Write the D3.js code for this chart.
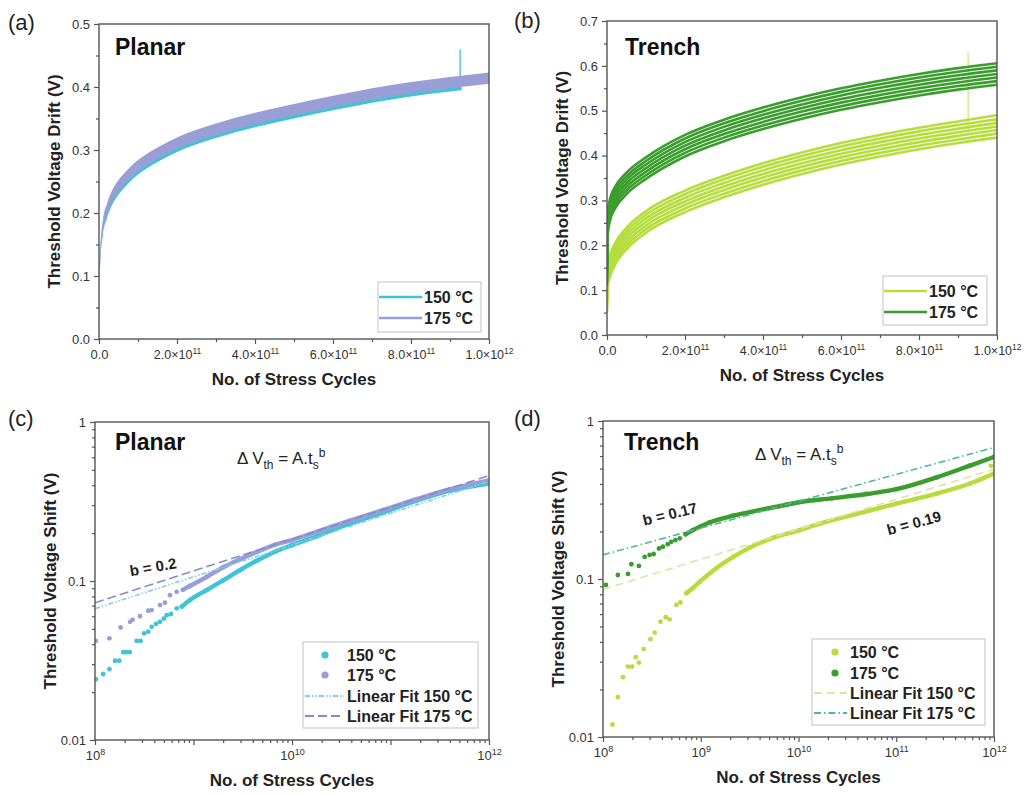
<!DOCTYPE html>
<html>
<head>
<meta charset="utf-8">
<script src="https://cdn.jsdelivr.net/npm/d3@7"></script>
<style>
  body { margin: 0; background: #fff; }
  svg { font-family: Arial, "Liberation Sans", sans-serif; }
</style>
</head>
<body>
<svg id="fig" width="1029" height="794"></svg>
<script>
// ---------- (a) Planar: threshold voltage drift vs. cycles (linear) ----------
const planarCycles175 = [0, 1e9, 3e9, 1e10, 2e10, 3e10, 4.5e10, 6e10, 8e10, 1e11, 1.25e11, 1.5e11, 2e11, 2.5e11, 3e11, 4e11, 5e11, 6e11, 7e11, 8e11, 9e11, 1e12];
const planar175 = [0, 0.09, 0.13, 0.18, 0.205, 0.222, 0.239, 0.251, 0.264, 0.275, 0.286, 0.295, 0.311, 0.323, 0.333, 0.35, 0.364, 0.377, 0.389, 0.399, 0.407, 0.414];
const planarCycles150 = [0, 1e9, 3e9, 1e10, 2e10, 3e10, 4.5e10, 6e10, 8e10, 1e11, 1.25e11, 1.5e11, 2e11, 2.5e11, 3e11, 4e11, 5e11, 6e11, 7e11, 8e11, 9e11, 9.3e11];
const planar150 = [0, 0.085, 0.125, 0.175, 0.2, 0.217, 0.234, 0.246, 0.259, 0.27, 0.281, 0.29, 0.306, 0.318, 0.328, 0.345, 0.359, 0.372, 0.384, 0.394, 0.402, 0.404];
const planar150Spike = [9.26e11, 0.40, 0.46];          // cycles, from, to

// ---------- (b) Trench: several devices per temperature ----------
const trenchCycles = [0, 2e9, 8e9, 2e10, 5e10, 1e11, 2e11, 3e11, 4e11, 5e11, 6e11, 7e11, 8e11, 9e11, 1e12];
const trench150Devices = [
  [0.11, 0.159, 0.179, 0.204, 0.239, 0.276, 0.322, 0.355, 0.383, 0.407, 0.428, 0.446, 0.462, 0.476, 0.490],
  [0.10, 0.151, 0.171, 0.196, 0.231, 0.268, 0.314, 0.347, 0.375, 0.399, 0.420, 0.438, 0.454, 0.468, 0.481],
  [0.09, 0.143, 0.163, 0.188, 0.223, 0.260, 0.306, 0.339, 0.367, 0.391, 0.412, 0.430, 0.446, 0.460, 0.473],
  [0.08, 0.135, 0.155, 0.180, 0.215, 0.252, 0.298, 0.331, 0.359, 0.383, 0.404, 0.422, 0.438, 0.452, 0.465],
  [0.07, 0.127, 0.147, 0.172, 0.207, 0.244, 0.290, 0.323, 0.351, 0.375, 0.396, 0.414, 0.430, 0.444, 0.457],
  [0.06, 0.119, 0.139, 0.164, 0.199, 0.236, 0.282, 0.315, 0.343, 0.367, 0.388, 0.406, 0.422, 0.436, 0.449],
  [0.05, 0.111, 0.131, 0.156, 0.191, 0.228, 0.274, 0.307, 0.335, 0.359, 0.380, 0.398, 0.414, 0.428, 0.440]
];
const trench175Devices = [
  [0.17, 0.274, 0.304, 0.329, 0.362, 0.396, 0.446, 0.480, 0.507, 0.530, 0.550, 0.567, 0.582, 0.595, 0.606],
  [0.16, 0.266, 0.296, 0.321, 0.354, 0.388, 0.438, 0.472, 0.499, 0.522, 0.542, 0.559, 0.574, 0.587, 0.598],
  [0.15, 0.258, 0.288, 0.313, 0.346, 0.380, 0.430, 0.464, 0.491, 0.514, 0.534, 0.551, 0.566, 0.579, 0.590],
  [0.14, 0.250, 0.280, 0.305, 0.338, 0.372, 0.422, 0.456, 0.483, 0.506, 0.526, 0.543, 0.558, 0.571, 0.582],
  [0.13, 0.242, 0.272, 0.297, 0.330, 0.364, 0.414, 0.448, 0.475, 0.498, 0.518, 0.535, 0.550, 0.563, 0.574],
  [0.12, 0.234, 0.264, 0.289, 0.322, 0.356, 0.406, 0.440, 0.467, 0.490, 0.510, 0.527, 0.542, 0.555, 0.566],
  [0.11, 0.226, 0.256, 0.281, 0.314, 0.348, 0.398, 0.432, 0.459, 0.482, 0.502, 0.519, 0.534, 0.547, 0.558]
];
const trenchSpike = [9.26e11, 0.45, 0.63];

// ---------- (c) Planar: log-log shift ----------
const planarLog150 = [
  [1.02e8, 0.0241], [1.21e8, 0.026], [1.40e8, 0.0279], [1.6e8, 0.0315], [1.76e8, 0.0315],
  [1.94e8, 0.0357], [2.1e8, 0.0357], [2.25e8, 0.0357], [2.65e8, 0.042], [2.9e8, 0.042],
  [3.15e8, 0.0469], [3.47e8, 0.048], [3.76e8, 0.0515], [4.17e8, 0.0537], [4.57e8, 0.0554],
  [5.0e8, 0.058], [5.35e8, 0.061], [5.9e8, 0.062], [6.75e8, 0.0673], [7.6e8, 0.069],
  [9.2e8, 0.0759], [1.36e9, 0.0877], [2.0e9, 0.101],
  [2.96e9, 0.117], [4.37e9, 0.134], [6.9e9, 0.154], [1e10, 0.168], [1.78e10, 0.191],
  [3.88e10, 0.23], [8.45e10, 0.27], [1.84e11, 0.32], [4.02e11, 0.37], [1e12, 0.41]
];
const planarLog175 = [
  [1.02e8, 0.042], [1.4e8, 0.0436], [1.82e8, 0.051], [2.27e8, 0.0554], [2.41e8, 0.057],
  [2.86e8, 0.060], [3.47e8, 0.065], [3.76e8, 0.0656], [4.57e8, 0.0706], [5.13e8, 0.073],
  [5.77e8, 0.0815], [6.75e8, 0.0855], [7.8e8, 0.088], [9.2e8, 0.093], [1.36e9, 0.106], [2e9, 0.122],
  [2.96e9, 0.137], [4.37e9, 0.152], [6.9e9, 0.17], [1e10, 0.181], [1.78e10, 0.204],
  [3.88e10, 0.24], [8.45e10, 0.28], [1.84e11, 0.327], [4.02e11, 0.378], [1e12, 0.43]
];
// power-law fits: value at 1e8 cycles and exponent b
const planarFitStart = [0.067, 0.073];
const planarFitB = [0.2, 0.2];

// ---------- (d) Trench: log-log shift ----------
const trenchLog150 = [
  [1.25e8, 0.012], [1.42e8, 0.0179], [1.6e8, 0.0239], [1.8e8, 0.0279], [1.98e8, 0.0279],
  [2.16e8, 0.032], [2.33e8, 0.0296], [2.61e8, 0.036], [3.06e8, 0.0416], [3.38e8, 0.0458],
  [3.87e8, 0.0537], [4.38e8, 0.0573], [4.8e8, 0.0556], [5.63e8, 0.0685], [6.2e8, 0.071],
  [7.13e8, 0.0813], [8.2e8, 0.087],
  [9.8e8, 0.0962], [1.44e9, 0.117], [2.15e9, 0.138], [3.17e9, 0.158], [5.46e9, 0.182],
  [1.03e10, 0.204], [1.65e10, 0.224], [3.63e10, 0.255], [1e11, 0.30], [2.59e11, 0.347],
  [5.68e11, 0.402], [1e12, 0.465]
];
const trenchLog150Spike = [9.3e11, 0.52];
const trenchLog175 = [
  [1.07e8, 0.0916], [1.42e8, 0.106], [1.8e8, 0.1077], [1.95e8, 0.124], [2.33e8, 0.121],
  [2.67e8, 0.138], [3.0e8, 0.142], [3.3e8, 0.144], [3.74e8, 0.156], [4.1e8, 0.16],
  [4.6e8, 0.166], [5.0e8, 0.172], [5.5e8, 0.176], [6.1e8, 0.181], [7.0e8, 0.192], [8.3e8, 0.204], [1.23e9, 0.228],
  [2.15e9, 0.252], [4e9, 0.273], [7.55e9, 0.295], [1.03e10, 0.307], [2.2e10, 0.324],
  [5e10, 0.345], [1e11, 0.37], [2.59e11, 0.44], [5.68e11, 0.522], [1e12, 0.592]
];
const trenchFitStart = [0.086, 0.142];
const trenchFitB = [0.19, 0.17];

// tick values
const linXMajor = [0, 2e11, 4e11, 6e11, 8e11, 1e12];
const linXMinor = [1e11, 3e11, 5e11, 7e11, 9e11];
const planarYMajor = [0, 0.1, 0.2, 0.3, 0.4, 0.5];
const trenchYMajor = [0, 0.1, 0.2, 0.3, 0.4, 0.5, 0.6, 0.7];
const logYMajor = [0.01, 0.1, 1];
const legendTemps = ["150 °C", "175 °C"];
const legendFits = ["Linear Fit 150 °C", "Linear Fit 175 °C"];

// ---------- styling ----------
const C150a = "#3fc3d5", C175a = "#9a9ed7";
const C150b = "#b6dd3c", C175b = "#3b9d2d";
const FIT150c = "#7cd2de", FIT175c = "#8589cf";
const FIT150d = "#e4e2a2", FIT175d = "#4bb8a2";
const AXIS = "#555", TXT = "#222", TICKTXT = "#333";

const svg = d3.select("#fig");
const boxA = {l: 99, r: 489, t: 24, b: 339};
const boxB = {l: 607, r: 997, t: 21, b: 335};
const boxC = {l: 95, r: 489, t: 422, b: 740};
const boxD = {l: 603, r: 994, t: 421, b: 737};

function clip(id, box) {
  svg.append("clipPath").attr("id", id).append("rect")
    .attr("x", box.l).attr("y", box.t).attr("width", box.r - box.l).attr("height", box.b - box.t);
}

function styleAxis(g) {
  g.select(".domain").remove();
  g.selectAll("line").attr("stroke", AXIS).attr("stroke-width", 1.2);
  g.selectAll("text").attr("fill", TICKTXT).attr("font-family", "Arial, 'Liberation Sans', sans-serif");
}

function supLabel(text, base, exp, size, supSize) {
  text.text(null).attr("font-size", size);
  text.append("tspan").text(base);
  text.append("tspan").attr("dy", -size * 0.42).attr("font-size", supSize).text(exp);
}

function xAxis(box, scale, major, minor, labeler) {
  const gm = svg.append("g").attr("transform", `translate(0,${box.b})`)
    .call(d3.axisBottom(scale).tickValues(minor).tickSize(3).tickFormat(""));
  styleAxis(gm);
  const g = svg.append("g").attr("transform", `translate(0,${box.b})`)
    .call(d3.axisBottom(scale).tickValues(major).tickSize(5).tickPadding(6));
  styleAxis(g);
  g.selectAll(".tick text").each(function (d) { labeler(d3.select(this), d); });
}

function yAxis(box, scale, major, minor, fmt) {
  const gm = svg.append("g").attr("transform", `translate(${box.l},0)`)
    .call(d3.axisLeft(scale).tickValues(minor).tickSize(3).tickFormat(""));
  styleAxis(gm);
  const g = svg.append("g").attr("transform", `translate(${box.l},0)`)
    .call(d3.axisLeft(scale).tickValues(major).tickSize(5).tickPadding(4).tickFormat(fmt));
  styleAxis(g);
  g.selectAll(".tick text").attr("font-size", 13);
}

function frame(box) {
  svg.append("rect").attr("x", box.l).attr("y", box.t)
    .attr("width", box.r - box.l).attr("height", box.b - box.t)
    .attr("fill", "none").attr("stroke", AXIS).attr("stroke-width", 1.4);
}

function sciLabel(t, d) {
  if (d === 0) { t.text("0.0").attr("font-size", 13); return; }
  const e = Math.floor(Math.log10(d) + 1e-9);
  const m = d / Math.pow(10, e);
  supLabel(t, m.toFixed(1) + "×10", String(e), 12.5, 8.5);
}
function powLabel(t, d) {
  supLabel(t, "10", String(Math.round(Math.log10(d))), 13, 9);
}

function logMinor(lo, hi, skipMajor) {
  const out = [];
  for (let e = lo; e < hi; e++) {
    for (let k = 1; k <= 9; k++) {
      const v = k * Math.pow(10, e);
      if (k === 1 && skipMajor.includes(e)) continue;
      out.push(v);
    }
  }
  return out;
}

function titles(box, panelLabel, xTitle, yTitle, name, nameX, nameY, labelX, labelY) {
  svg.append("text").attr("x", labelX).attr("y", labelY).attr("font-size", 22)
    .attr("fill", TXT).text(panelLabel);
  svg.append("text").attr("x", (box.l + box.r) / 2).attr("y", box.b + 46)
    .attr("text-anchor", "middle").attr("font-size", 17).attr("font-weight", "bold")
    .attr("fill", TXT).text(xTitle);
  const cy = (box.t + box.b) / 2;
  svg.append("text").attr("transform", `translate(${box.l - 39},${cy}) rotate(-90)`)
    .attr("text-anchor", "middle").attr("font-size", 17).attr("font-weight", "bold")
    .attr("fill", TXT).text(yTitle);
  svg.append("text").attr("x", nameX).attr("y", nameY).attr("font-size", 23)
    .attr("font-weight", "bold").attr("fill", "#111").text(name);
}

function lineLegend(x, y, w, h, colors, labels, lineLen) {
  const g = svg.append("g");
  g.append("rect").attr("x", x).attr("y", y).attr("width", w).attr("height", h)
    .attr("fill", "#fff").attr("stroke", "#ccc").attr("stroke-width", 1.2);
  labels.forEach((lab, i) => {
    const yy = y + 15 + i * 21;
    g.append("line").attr("x1", x + 1).attr("x2", x + lineLen).attr("y1", yy).attr("y2", yy)
      .attr("stroke", colors[i]).attr("stroke-width", 2.5);
    g.append("text").attr("x", x + lineLen + 2).attr("y", yy).attr("dy", "0.36em")
      .attr("font-size", 16).attr("font-weight", "bold").attr("fill", TXT).text(lab);
  });
}

function fullLegend(x, y, w, h, dotX, textX, dotColors, fitColors, fitDash, rowY) {
  const g = svg.append("g");
  g.append("rect").attr("x", x).attr("y", y).attr("width", w).attr("height", h)
    .attr("fill", "#fff").attr("stroke", "#ccc").attr("stroke-width", 1.2);
  legendTemps.forEach((lab, i) => {
    g.append("circle").attr("cx", dotX).attr("cy", rowY[i]).attr("r", 3.6).attr("fill", dotColors[i]);
    g.append("text").attr("x", textX).attr("y", rowY[i]).attr("dy", "0.36em")
      .attr("font-size", 16).attr("font-weight", "bold").attr("fill", TXT).text(lab);
  });
  legendFits.forEach((lab, i) => {
    const yy = rowY[i + 2];
    g.append("line").attr("x1", x + 2).attr("x2", textX - 3).attr("y1", yy).attr("y2", yy)
      .attr("stroke", fitColors[i]).attr("stroke-width", 1.8).attr("stroke-dasharray", fitDash[i]);
    g.append("text").attr("x", textX).attr("y", yy).attr("dy", "0.36em")
      .attr("font-size", 16).attr("font-weight", "bold").attr("fill", TXT).text(lab);
  });
}

function equation(x, y) {
  const t = svg.append("text").attr("x", x).attr("y", y).attr("font-size", 17).attr("fill", TXT);
  t.append("tspan").text("Δ V");
  t.append("tspan").attr("dy", 5).attr("font-size", 12).text("th");
  t.append("tspan").attr("dy", -5).text(" = A.t");
  t.append("tspan").attr("dy", 5).attr("font-size", 12).text("s");
  t.append("tspan").attr("dy", -12).attr("font-size", 12).text("b");
}

function slopeLabel(x, y, angle, txt) {
  svg.append("text").attr("transform", `translate(${x},${y}) rotate(${angle})`)
    .attr("text-anchor", "middle").attr("dy", "0.35em")
    .attr("font-size", 15).attr("font-weight", "bold").attr("fill", TXT).text(txt);
}

// ================= (a) =================
{
  const x = d3.scaleLinear().domain([0, 1e12]).range([boxA.l, boxA.r]);
  const y = d3.scaleLinear().domain([0, 0.5]).range([boxA.b, boxA.t]);
  clip("clipA", boxA);
  const band = 0.009;   // visual half-thickness of the noisy trace
  const area = d3.area().curve(d3.curveMonotoneX)
    .x(d => x(d[0])).y0(d => y(d[1] - band)).y1(d => y(d[1] + band));
  const g = svg.append("g").attr("clip-path", "url(#clipA)");
  g.append("path").datum(d3.zip(planarCycles150, planar150)).attr("d", area).attr("fill", C150a);
  g.append("line").attr("x1", x(planar150Spike[0])).attr("x2", x(planar150Spike[0]))
    .attr("y1", y(planar150Spike[1])).attr("y2", y(planar150Spike[2]))
    .attr("stroke", C150a).attr("stroke-width", 1.3);
  g.append("path").datum(d3.zip(planarCycles175, planar175)).attr("d", area).attr("fill", C175a);
  xAxis(boxA, x, linXMajor, linXMinor, sciLabel);
  yAxis(boxA, y, planarYMajor, d3.range(0.05, 0.5, 0.1), d3.format(".1f"));
  frame(boxA);
  titles(boxA, "(a)", "No. of Stress Cycles", "Threshold Voltage Drift (V)", "Planar", 115, 55, 8, 30);
  lineLegend(378, 282, 103, 50, [C150a, C175a], legendTemps, 44);
}

// ================= (b) =================
{
  const x = d3.scaleLinear().domain([0, 1e12]).range([boxB.l, boxB.r]);
  const y = d3.scaleLinear().domain([0, 0.7]).range([boxB.b, boxB.t]);
  clip("clipB", boxB);
  const line = d3.line().curve(d3.curveMonotoneX).x(d => x(d[0])).y(d => y(d[1]));
  const g = svg.append("g").attr("clip-path", "url(#clipB)");
  trench150Devices.forEach(v => {
    g.append("path").datum(d3.zip(trenchCycles, v)).attr("d", line)
      .attr("fill", "none").attr("stroke", C150b).attr("stroke-width", 2.6);
  });
  g.append("line").attr("x1", x(trenchSpike[0])).attr("x2", x(trenchSpike[0]))
    .attr("y1", y(trenchSpike[1])).attr("y2", y(trenchSpike[2]))
    .attr("stroke", C150b).attr("stroke-width", 1.2).attr("opacity", 0.7);
  trench175Devices.forEach(v => {
    g.append("path").datum(d3.zip(trenchCycles, v)).attr("d", line)
      .attr("fill", "none").attr("stroke", C175b).attr("stroke-width", 2.6);
  });
  xAxis(boxB, x, linXMajor, linXMinor, sciLabel);
  yAxis(boxB, y, trenchYMajor, d3.range(0.05, 0.7, 0.1), d3.format(".1f"));
  frame(boxB);
  titles(boxB, "(b)", "No. of Stress Cycles", "Threshold Voltage Drift (V)", "Trench", 625, 55, 514, 28);
  lineLegend(883, 276, 104, 49, [C150b, C175b], legendTemps, 44);
}

// log-log panel drawing
function logPanel(box, clipId, s150, s175, traceFrom, c150, c175, fitStart, fitB, fitColors, fitDash, xMajor, xLabeled) {
  const x = d3.scaleLog().domain([1e8, 1e12]).range([box.l, box.r]);
  const y = d3.scaleLog().domain([0.01, 1]).range([box.b, box.t]);
  clip(clipId, box);
  const g = svg.append("g").attr("clip-path", `url(#${clipId})`);
  const line = d3.line().x(d => x(d[0])).y(d => y(d[1]));
  const traceLine = d3.line().curve(d3.curveMonotoneX).x(d => x(d[0])).y(d => y(d[1]));
  [[s150, c150], [s175, c175]].forEach(([s, c]) => {
    g.append("path").datum(s.filter(d => d[0] >= traceFrom)).attr("d", traceLine)
      .attr("fill", "none").attr("stroke", c).attr("stroke-width", 4.4)
      .attr("stroke-linecap", "round").attr("stroke-linejoin", "round");
    g.selectAll(null).data(s).join("circle")
      .attr("cx", d => x(d[0])).attr("cy", d => y(d[1])).attr("r", 2.4).attr("fill", c);
  });
  fitStart.forEach((a0, i) => {
    const A = a0 / Math.pow(1e8, fitB[i]);
    const pts = [1e8, 1e12].map(t => [t, A * Math.pow(t, fitB[i])]);
    g.append("path").datum(pts).attr("d", line).attr("fill", "none")
      .attr("stroke", fitColors[i]).attr("stroke-width", 1.6).attr("stroke-dasharray", fitDash[i]);
  });
  const minorX = logMinor(8, 12, xMajor.map(v => Math.round(Math.log10(v))));
  xAxis(box, x, xMajor, minorX, (t, d) => {
    if (xLabeled.includes(d)) powLabel(t, d); else t.text(null);
  });
  yAxis(box, y, logYMajor, logMinor(-2, 0, [-2, -1]), d => (d === 1 ? "1" : String(d)));
  frame(box);
  return {x, y, g};
}

// ================= (c) =================
{
  const p = logPanel(boxC, "clipC", planarLog150, planarLog175, 7e8, C150a, C175a,
    planarFitStart, planarFitB, [FIT150c, FIT175c], ["5,2,1.5,2,1.5,2", "9,4"],
    [1e8, 1e9, 1e10, 1e11, 1e12], [1e8, 1e10, 1e12]);
  titles(boxC, "(c)", "No. of Stress Cycles", "Threshold Voltage Shift (V)", "Planar", 115, 450, 8, 426);
  equation(237, 464);
  slopeLabel(153, 567, -10, "b = 0.2");
  fullLegend(303, 642, 175, 86, 325, 347, [C150a, C175a], [FIT150c, FIT175c],
    ["5,2,1.5,2,1.5,2", "9,4"], [655, 675, 696, 716]);
}

// ================= (d) =================
{
  const p = logPanel(boxD, "clipD", trenchLog150, trenchLog175, 7e8, C150b, C175b,
    trenchFitStart, trenchFitB, [FIT150d, FIT175d], ["8,5", "7,3,1.5,3"],
    [1e8, 1e9, 1e10, 1e11, 1e12], [1e8, 1e9, 1e10, 1e11, 1e12]);
  p.g.append("circle").attr("cx", p.x(trenchLog150Spike[0])).attr("cy", p.y(trenchLog150Spike[1]))
    .attr("r", 2.4).attr("fill", C150b);
  titles(boxD, "(d)", "No. of Stress Cycles", "Threshold Voltage Shift (V)", "Trench", 624, 450, 514, 426);
  equation(755, 460);
  slopeLabel(670, 514, -14, "b = 0.17");
  slopeLabel(914, 523, -15, "b = 0.19");
  fullLegend(812, 639, 173, 86, 835, 850, [C150b, C175b], [FIT150d, FIT175d],
    ["8,5", "7,3,1.5,3"], [652, 673, 693, 713]);
}
</script>
</body>
</html>
